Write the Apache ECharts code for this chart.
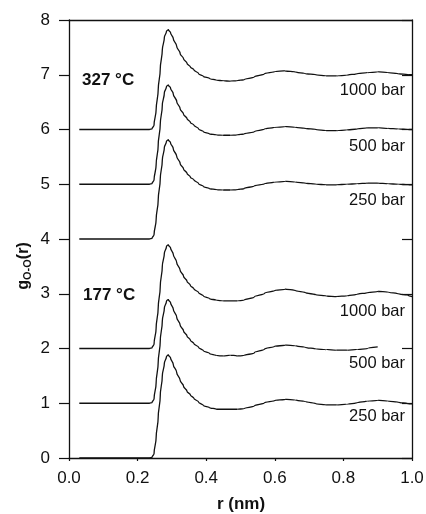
<!DOCTYPE html>
<html>
<head>
<meta charset="utf-8">
<script src="https://cdn.jsdelivr.net/npm/echarts@6/dist/echarts.min.js"></script>
<style>html,body{margin:0;padding:0;background:#fff}#c{width:426px;height:514px}</style>
</head>
<body>
<div id="c"></div>
<script>
// r grid (nm)
var r = [0.03, 0.235, 0.242, 0.248, 0.254, 0.26, 0.266, 0.272, 0.278, 0.284, 0.29, 0.296, 0.304, 0.314, 0.324, 0.334, 0.344, 0.354, 0.364, 0.378, 0.392, 0.41, 0.43, 0.45, 0.47, 0.49, 0.51, 0.54, 0.57, 0.60, 0.63, 0.66, 0.69, 0.72, 0.75, 0.78, 0.81, 0.84, 0.87, 0.90, 0.93, 0.96, 0.99, 1.0];

// g_OO(r) (unshifted)
var g327_1000 = [0, 0, 0.01, 0.08, 0.36, 0.72, 1.10, 1.45, 1.68, 1.79, 1.82, 1.77, 1.66, 1.52, 1.39, 1.29, 1.21, 1.14, 1.09, 1.02, 0.97, 0.93, 0.90, 0.89, 0.885, 0.89, 0.91, 0.96, 1.02, 1.06, 1.07, 1.05, 1.02, 1.00, 0.98, 0.98, 0.99, 1.02, 1.04, 1.05, 1.04, 1.02, 1.00, 1.00];
var g327_500  = [0, 0, 0.01, 0.08, 0.35, 0.71, 1.09, 1.44, 1.67, 1.78, 1.81, 1.76, 1.65, 1.51, 1.38, 1.28, 1.20, 1.13, 1.08, 1.01, 0.96, 0.92, 0.90, 0.895, 0.895, 0.90, 0.92, 0.96, 1.01, 1.04, 1.05, 1.04, 1.02, 1.00, 0.98, 0.98, 0.99, 1.01, 1.03, 1.03, 1.02, 1.01, 1.00, 1.00];
var g327_250  = [0, 0, 0.01, 0.08, 0.35, 0.71, 1.09, 1.44, 1.67, 1.78, 1.81, 1.76, 1.65, 1.51, 1.38, 1.28, 1.20, 1.13, 1.08, 1.01, 0.96, 0.92, 0.90, 0.895, 0.895, 0.90, 0.92, 0.97, 1.01, 1.04, 1.05, 1.04, 1.02, 1.00, 0.99, 0.99, 1.00, 1.01, 1.02, 1.02, 1.01, 1.00, 0.99, 0.99];
var g177_1000 = [0, 0, 0.01, 0.08, 0.37, 0.74, 1.13, 1.50, 1.74, 1.86, 1.89, 1.84, 1.72, 1.57, 1.43, 1.32, 1.23, 1.15, 1.09, 1.02, 0.96, 0.91, 0.88, 0.87, 0.87, 0.87, 0.88, 0.94, 1.01, 1.06, 1.08, 1.06, 1.02, 0.98, 0.96, 0.95, 0.96, 0.99, 1.02, 1.04, 1.03, 1.00, 0.97, 0.95];
var g177_500  = [0, 0, 0.01, 0.08, 0.37, 0.74, 1.13, 1.50, 1.74, 1.86, 1.89, 1.84, 1.72, 1.57, 1.43, 1.32, 1.23, 1.15, 1.09, 1.02, 0.96, 0.91, 0.87, 0.865, 0.875, 0.865, 0.87, 0.92, 0.99, 1.04, 1.06, 1.05, 1.02, 0.99, 0.98, 0.97, 0.97, 0.98, 1.00, 1.03, null, null, null, null];
var g177_250  = [0, 0, 0.01, 0.08, 0.37, 0.74, 1.13, 1.50, 1.73, 1.85, 1.88, 1.83, 1.71, 1.56, 1.42, 1.31, 1.22, 1.15, 1.09, 1.02, 0.96, 0.92, 0.89, 0.89, 0.89, 0.89, 0.90, 0.95, 1.01, 1.05, 1.07, 1.06, 1.03, 0.99, 0.97, 0.97, 0.98, 1.01, 1.04, 1.05, 1.04, 1.02, 0.99, 0.99];

var offsets = [6, 5, 4, 2, 1, 0];
var curves = [g327_1000, g327_500, g327_250, g177_1000, g177_500, g177_250];
var pressureLabels = ['1000 bar', '500 bar', '250 bar', '1000 bar', '500 bar', '250 bar'];
var tempLabels = ['327 °C', '177 °C'];
var xTicks = [0, 0.2, 0.4, 0.6, 0.8, 1.0];
var yTicks = [0, 1, 2, 3, 4, 5, 6, 7, 8];

var FONT = "'Liberation Sans', Arial, Helvetica, sans-serif";
var INK = '#111';

var series = curves.map(function (g, i) {
  var pts = [];
  for (var k = 0; k < r.length; k++) {
    if (g[k] !== null) pts.push([r[k], g[k] + offsets[i]]);
  }
  return {
    type: 'line', data: pts, showSymbol: false, smooth: 0.4, smoothMonotone: 'y',
    lineStyle: { color: INK, width: 1.3 }, silent: true, animation: false
  };
});

var pressY = [90, 146, 200, 311, 363, 416];
var graphics = pressureLabels.map(function (t, i) {
  return { type: 'text', x: 405, y: pressY[i],
    style: { text: t, font: '16.5px ' + FONT, fill: INK, align: 'right', verticalAlign: 'middle' } };
});
graphics.push({ type: 'text', x: 82, y: 80, style: { text: tempLabels[0], font: 'bold 17px ' + FONT, fill: INK, align: 'left', verticalAlign: 'middle' } });
graphics.push({ type: 'text', x: 83, y: 295, style: { text: tempLabels[1], font: 'bold 17px ' + FONT, fill: INK, align: 'left', verticalAlign: 'middle' } });
graphics.push({ type: 'text', x: 24, y: 266, rotation: Math.PI / 2,
  style: { text: '{a|g}{b|O-O}{a|(r)}', align: 'center', verticalAlign: 'middle', fill: INK,
    rich: { a: { font: 'bold 16px ' + FONT, fill: INK }, b: { font: 'bold 11px ' + FONT, fill: INK, padding: [7, 0, 0, 0] } } } });
graphics.push({ type: 'text', x: 241, y: 504, style: { text: 'r (nm)', font: 'bold 17px ' + FONT, fill: INK, align: 'center', verticalAlign: 'middle' } });

var chart = echarts.init(document.getElementById('c'), null, { renderer: 'canvas' });
chart.setOption({
  backgroundColor: '#fff',
  animation: false,
  grid: { left: 69, right: 14, top: 20, bottom: 56, containLabel: false, outerBoundsMode: 'none' },
  xAxis: [{
    type: 'value', min: xTicks[0], max: xTicks[xTicks.length - 1], interval: 0.2,
    axisLine: { show: true, lineStyle: { color: INK, width: 1.3 } },
    axisTick: { show: true, inside: false, length: 3, lineStyle: { color: INK, width: 1.2 } },
    axisLabel: { margin: 12, color: INK, fontSize: 17, fontFamily: FONT, formatter: function (v) { return v.toFixed(1); } },
    splitLine: { show: false }
  }, {
    type: 'value', position: 'top', min: 0, max: 1, interval: 0.2,
    axisLine: { show: true, onZero: false, lineStyle: { color: INK, width: 1.3 } },
    axisTick: { show: false }, axisLabel: { show: false }, splitLine: { show: false }
  }],
  yAxis: [{
    type: 'value', min: yTicks[0], max: yTicks[yTicks.length - 1], interval: 1,
    axisLine: { show: true, lineStyle: { color: INK, width: 1.3 } },
    axisTick: { show: true, inside: false, length: 10, lineStyle: { color: INK, width: 1.2 } },
    axisLabel: { margin: 19, color: INK, fontSize: 17, fontFamily: FONT },
    splitLine: { show: false }
  }, {
    type: 'value', position: 'right', min: 0, max: 8, interval: 1,
    axisLine: { show: true, onZero: false, lineStyle: { color: INK, width: 1.3 } },
    axisTick: { show: true, inside: true, length: 10, lineStyle: { color: INK, width: 1.2 } },
    axisLabel: { show: false }, splitLine: { show: false }
  }],
  series: series,
  graphic: graphics
});
</script>
</body>
</html>
